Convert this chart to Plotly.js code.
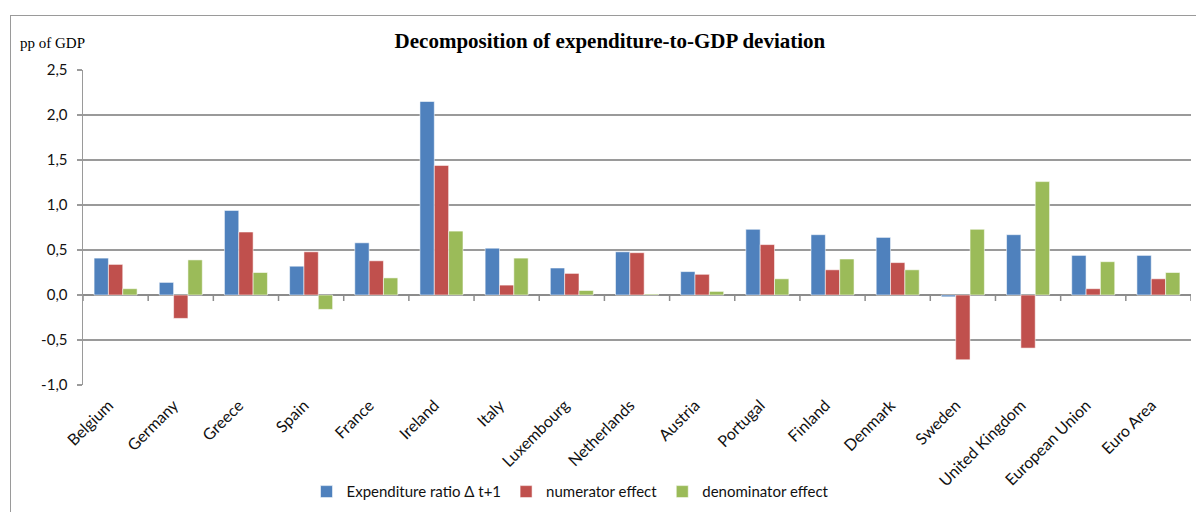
<!DOCTYPE html>
<html>
<head>
<meta charset="utf-8">
<script src="https://cdn.plot.ly/plotly-3.0.1.min.js"></script>
<style>
  html, body { margin: 0; padding: 0; background: #fff; }
  #wrap { position: relative; width: 1196px; height: 512px; overflow: hidden; }
  #chart { width: 1196px; height: 512px; }
  #frame { position: absolute; left: 10px; top: 15px; width: 1200px; height: 520px;
           border: 1.5px solid #9a9a9a; pointer-events: none; box-sizing: border-box; }
</style>
</head>
<body>
<div id="wrap">
  <div id="chart"></div>
  <div id="frame"></div>
</div>
<script>
// Countries / aggregates on the category axis
const countries = ["Belgium", "Germany", "Greece", "Spain", "France", "Ireland", "Italy",
  "Luxembourg", "Netherlands", "Austria", "Portugal", "Finland", "Denmark", "Sweden",
  "United Kingdom", "European Union", "Euro Area"];

// Change in the expenditure ratio (t+1), pp of GDP
const expenditureRatio = [0.41, 0.14, 0.94, 0.32, 0.58, 2.15, 0.52, 0.30, 0.48, 0.26,
  0.73, 0.67, 0.64, -0.02, 0.67, 0.44, 0.44];

// Contribution of the numerator (expenditure growth)
const numeratorEffect = [0.34, -0.26, 0.70, 0.48, 0.38, 1.44, 0.11, 0.24, 0.47, 0.23,
  0.56, 0.28, 0.36, -0.72, -0.59, 0.07, 0.18];

// Contribution of the denominator (GDP growth)
const denominatorEffect = [0.07, 0.39, 0.25, -0.16, 0.19, 0.71, 0.41, 0.05, 0.01, 0.04,
  0.18, 0.40, 0.28, 0.73, 1.26, 0.37, 0.25];

// Value axis ticks (comma decimals, plain hyphen for negatives)
const yTickVals = [-1.0, -0.5, 0.0, 0.5, 1.0, 1.5, 2.0, 2.5];
const yTickLabels = ["-1,0", "-0,5", "0,0", "0,5", "1,0", "1,5", "2,0", "2,5"];

const seriesNames = ["Expenditure ratio Δ t+1", "numerator effect", "denominator effect"];
const seriesColors = ["#4F81BD", "#C0504D", "#9BBB59"];
const seriesValues = [expenditureRatio, numeratorEffect, denominatorEffect];

const yRange = [-1, 2.5];
const uiFont = "Lato, 'Open Sans', sans-serif";
const serifFont = "'Liberation Serif', 'Times New Roman', serif";

const traces = seriesValues.map((vals, k) => ({
  type: "bar",
  name: seriesNames[k],
  x: countries,
  y: vals,
  marker: { color: seriesColors[k], line: { color: "rgba(255,255,255,0.55)", width: 1 } },
  hoverinfo: "x+y+name"
}));

// Small downward tick marks on the zero line at each category boundary
const boundaryTicks = [];
for (let i = 0; i <= countries.length; i++) {
  boundaryTicks.push({
    type: "line", xref: "x", yref: "y",
    x0: i - 0.5, x1: i - 0.5,
    ysizemode: "pixel", yanchor: 0, y0: 0, y1: -6,
    line: { color: "#8c8c8c", width: 1.5 }
  });
}

const layout = {
  width: 1196, height: 512,
  margin: { l: 83, r: 5, t: 70, b: 126 },
  paper_bgcolor: "#fff", plot_bgcolor: "#fff",
  barmode: "group", bargap: 0.34, bargroupgap: 0,
  showlegend: true,
  title: {
    text: "<b>Decomposition of expenditure-to-GDP deviation</b>",
    font: { family: serifFont, size: 21, color: "#000" },
    x: 0.51, xref: "container", xanchor: "center",
    y: 0.92, yref: "container", yanchor: "middle"
  },
  xaxis: {
    type: "category",
    tickangle: -45,
    ticks: "", showline: false, showgrid: false, zeroline: false,
    ticklabelstandoff: 7, ticklabelshift: -7,
    tickfont: { family: uiFont, size: 16, color: "#111" },
    range: [-0.5, countries.length - 0.5]
  },
  yaxis: {
    range: yRange,
    tickmode: "array", tickvals: yTickVals, ticktext: yTickLabels,
    showgrid: true, gridcolor: "#9a9a9a", gridwidth: 1.5,
    zeroline: true, zerolinecolor: "#8c8c8c", zerolinewidth: 1.5,
    showline: true, linecolor: "#9a9a9a", linewidth: 1.5,
    ticks: "outside", ticklen: 5, tickwidth: 1.5, tickcolor: "#9a9a9a",
    ticklabelstandoff: 6,
    tickfont: { family: uiFont, size: 15, color: "#111" }
  },
  legend: {
    orientation: "h",
    x: 0.44, xanchor: "center",
    y: -0.335, yanchor: "middle",
    font: { family: uiFont, size: 15, color: "#111" },
    itemclick: false, itemdoubleclick: false,
    traceorder: "normal"
  },
  annotations: [{
    text: "pp of GDP",
    xref: "paper", yref: "paper",
    x: -0.059, xanchor: "left",
    y: 1.085, yanchor: "middle",
    showarrow: false,
    font: { family: serifFont, size: 15, color: "#000" }
  }],
  shapes: boundaryTicks
};

Plotly.newPlot("chart", traces, layout, { displayModeBar: false, staticPlot: true });
</script>
</body>
</html>
